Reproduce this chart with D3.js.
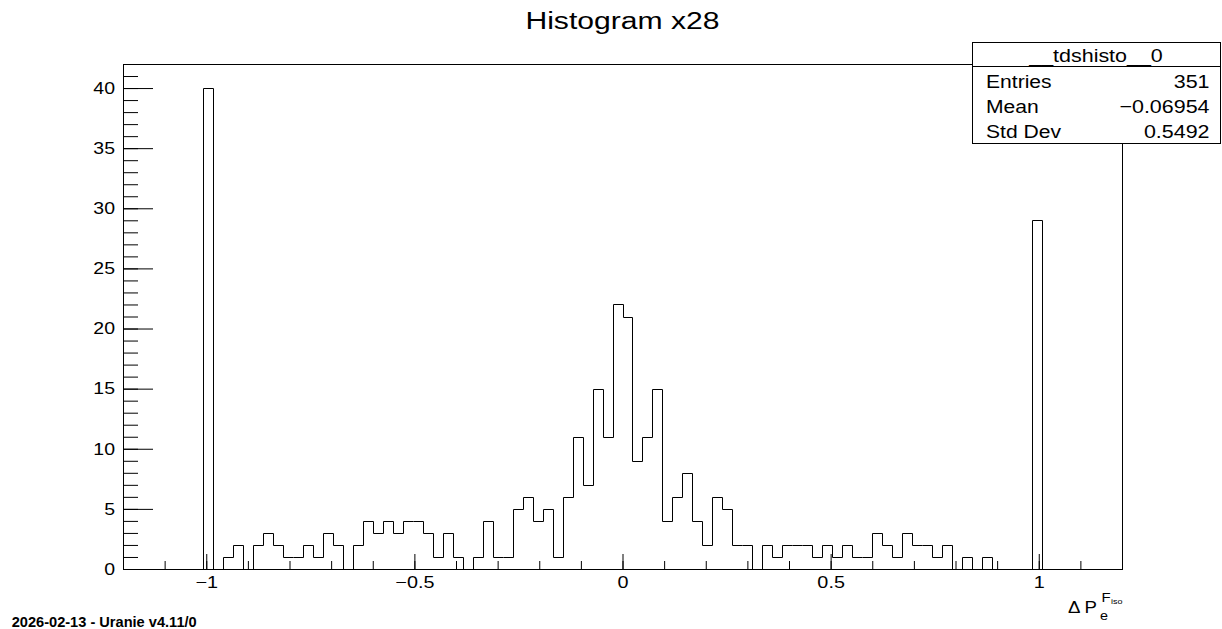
<!DOCTYPE html>
<html><head><meta charset="utf-8">
<script src="https://cdn.jsdelivr.net/npm/d3@7"></script>
<style>
body{margin:0;background:#fff}
svg{display:block}
text{font-family:"Liberation Sans",Arial,Helvetica,sans-serif;fill:#000}
</style>
</head><body>
<svg id="c" width="1222" height="629"></svg>
<script>
// ---- data ----
const binLow = -1.2, binHigh = 1.2;
const counts = [
  0,0,0,0,0,0,0,0,
  40,
  0,1,2,0,2,3,2,1,1,2,1,3,2,0,2,4,
  3,4,3,4,4,3,1,3,1,0,1,4,1,1,5,6,4,5,1,6,
  11,7,15,11,22,21,9,11,15,
  4,6,8,4,2,6,5,2,2,0,2,1,2,2,2,1,2,1,2,1,1,
  3,2,1,3,2,2,1,2,0,1,0,1,0,0,0,0,
  29,
  0,0,0,0,0,0,0,0
];
const xMajorTicks = [-1, -0.5, 0, 0.5, 1];
const yMajorTicks = [0, 5, 10, 15, 20, 25, 30, 35, 40];
const yMax = 42;
const title = "Histogram x28";
const statName = "__tdshisto__0";
const statLabels = ["Entries", "Mean", "Std Dev"];
const statValues = ["351", "\u22120.06954", "0.5492"];
const footer = "2026-02-13 - Uranie v4.11/0";

// ---- layout ----
const svg = d3.select("#c");
svg.append("rect").attr("width",1222).attr("height",629).attr("fill","#fff");
const L = 123, R = 1122, T = 64, B = 569;
const x = d3.scaleLinear().domain([binLow, binHigh]).range([L, R]);
const y = d3.scaleLinear().domain([0, yMax]).range([B, T]);

function hs(sel, s){
  sel.each(function(){
    const t = d3.select(this);
    const xv = +(t.attr("x") || 0);
    t.attr("x", xv / s).attr("transform", `scale(${s},1)`);
  });
}
function txt(px, py, str, size, anchor, s, weight){
  const g = svg.append("g").attr("transform", `translate(${px},${py})`);
  const t = g.append("text").attr("transform", `scale(${s},1)`)
    .attr("font-size", size).attr("text-anchor", anchor || "start").text(str);
  if (weight) t.attr("font-weight", weight);
  return t;
}

// histogram outline
const nb = counts.length, bw = (binHigh - binLow) / nb;
const pts = [[binLow, 0]];
counts.forEach((c, i) => { pts.push([binLow + i*bw, c]); pts.push([binLow + (i+1)*bw, c]); });
pts.push([binHigh, 0]);
const line = d3.line().x(d => Math.round(x(d[0])) + 0.5).y(d => Math.round(y(d[1])) + 0.5);
svg.append("path").attr("d", line(pts)).attr("fill","none").attr("stroke","#000").attr("stroke-width",1);

// axes
const xMinor = d3.range(-11, 12).map(v => v/10);
const yMinor = d3.range(0, yMax + 1);
const gxm = svg.append("g").attr("transform", `translate(0,${B})`)
  .call(d3.axisBottom(x).tickValues(xMinor).tickSize(-8).tickFormat(""));
gxm.select(".domain").remove();
const gx = svg.append("g").attr("transform", `translate(0,${B})`)
  .call(d3.axisBottom(x).tickValues(xMajorTicks).tickSize(-15).tickPadding(7).tickFormat(d3.format("")));
gx.select(".domain").remove();
gx.selectAll("text").attr("font-size",16.5).attr("font-family",null);
hs(gx.selectAll("text"), 1.2);

const gym = svg.append("g").attr("transform", `translate(${L},0)`)
  .call(d3.axisLeft(y).tickValues(yMinor).tickSize(-15).tickFormat(""));
gym.select(".domain").remove();
const gy = svg.append("g").attr("transform", `translate(${L},0)`)
  .call(d3.axisLeft(y).tickValues(yMajorTicks).tickSize(-30).tickPadding(8).tickFormat(d3.format("d")));
gy.select(".domain").remove();
gy.selectAll("text").attr("font-size",16.5).attr("font-family",null);
hs(gy.selectAll("text"), 1.18);

// frame
svg.append("rect").attr("x", L+0.5).attr("y", T+0.5).attr("width", R-L).attr("height", B-T)
  .attr("fill","none").attr("stroke","#000").attr("stroke-width",1);

// title
txt(622.5, 29.3, title, 24.7, "middle", 1.22);

// stat box
svg.append("rect").attr("x",972.5).attr("y",42.5).attr("width",248).attr("height",101)
  .attr("fill","#fff").attr("stroke","#000").attr("stroke-width",1);
svg.append("line").attr("x1",972.5).attr("x2",1220.5).attr("y1",66.5).attr("y2",66.5).attr("stroke","#000");
txt(1096, 61.5, statName, 18.5, "middle", 1.16);
const rowY = [88.3, 113.3, 138.3];
statLabels.forEach((lab, i) => {
  txt(986, rowY[i], lab, 18.5, "start", 1.14);
  txt(1209.5, rowY[i], statValues[i], 18.5, "end", 1.16);
});

// x axis title: Delta P_e^{F_iso}
txt(1068, 613, "\u0394 P", 15.8, "start", 1.18);
txt(1100, 619.5, "e", 12.5, "start", 1.15);
txt(1101.5, 602, "F", 13, "start", 1.15);
txt(1111, 603.5, "iso", 7.5, "start", 1.2);

// footer
txt(11.7, 626.5, footer, 14.6, "start", 1.0, "bold");
</script>
</body></html>
